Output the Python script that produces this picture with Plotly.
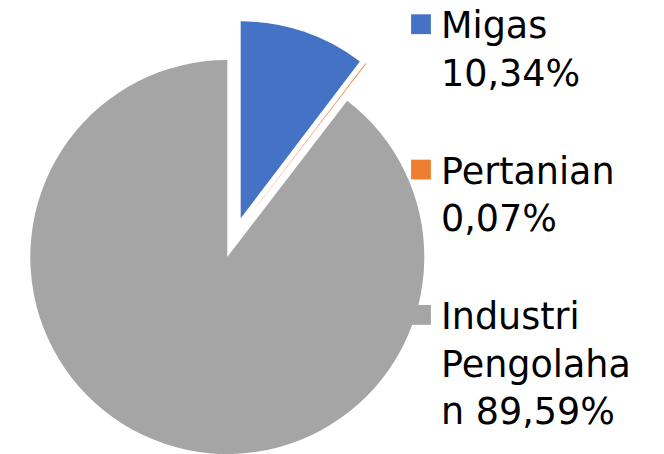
import plotly.graph_objects as go

# data
categories = ["Migas", "Pertanian", "Industri Pengolahan"]
values = [10.34, 0.07, 89.59]
legend_labels = ["Migas<br>10,34%<br>\u00a0",
                 "Pertanian<br>0,07%<br>\u00a0",
                 "Industri<br>Pengolaha<br>n 89,59%"]
slice_colors = ["#4472C4", "#ED7D31", "#A5A5A5"]

W, H = 664, 454
CLEAR = "rgba(0,0,0,0)"


def dom(cx, cy, r):
    # pie domain from a centre/radius in pixels
    return dict(x=[(cx - r) / W, (cx + r) / W], y=[(H - cy - r) / H, (H - cy + r) / H])


def only(i):
    # colour list that shows just slice i
    return [c if j == i else CLEAR for j, c in enumerate(slice_colors)]


common = dict(values=values, sort=False, direction="clockwise", rotation=0,
              textinfo="none", marker_line_width=0, showlegend=False,
              hovertext=categories, hoverinfo="text+percent")

fig = go.Figure()
# legend-only trace (tiny, hidden under the grey slice)
fig.add_trace(go.Pie(labels=legend_labels, values=values, sort=False,
                     marker=dict(colors=slice_colors, line=dict(width=0)),
                     textinfo="none", hoverinfo="skip",
                     domain=dict(x=[0.2, 0.2004], y=[0.3, 0.3006])))
# main body (grey) and exploded slices
fig.add_trace(go.Pie(labels=categories, marker_colors=only(2), domain=dom(227.3, 257, 197), **common))
fig.add_trace(go.Pie(labels=categories, marker_colors=only(0), domain=dom(240.7, 218.3, 197), **common))
fig.add_trace(go.Pie(labels=categories, marker_colors=only(1), domain=dom(246.3, 220, 197), **common))

fig.update_layout(
    width=W, height=H,
    margin=dict(l=0, r=0, t=0, b=0, autoexpand=False),
    paper_bgcolor="white",
    font=dict(family="DejaVu Sans", color="black"),
    legend=dict(x=401 / W, y=1, xanchor="left", yanchor="top", valign="top",
                font=dict(size=36.5, family="DejaVu Sans", color="black"),
                bgcolor="rgba(0,0,0,0)", traceorder="normal"),
)

post = """
document.body.style.margin='0';
document.body.style.overflow='hidden';
var gd = document.getElementById('{plot_id}');
gd.querySelectorAll('path.legendpie').forEach(function(p){
  p.setAttribute('transform','translate(20,0) scale(1.65)');
});
var lg = gd.querySelector('g.legend');
var m = /translate\\(([^,]+),\\s*([^)]+)\\)/.exec(lg.getAttribute('transform'));
lg.setAttribute('transform', 'translate(' + m[1] + ',' + (parseFloat(m[2]) - 6) + ')');
"""

fig.write_html("out.html", post_script=post, config={"displayModeBar": False})
